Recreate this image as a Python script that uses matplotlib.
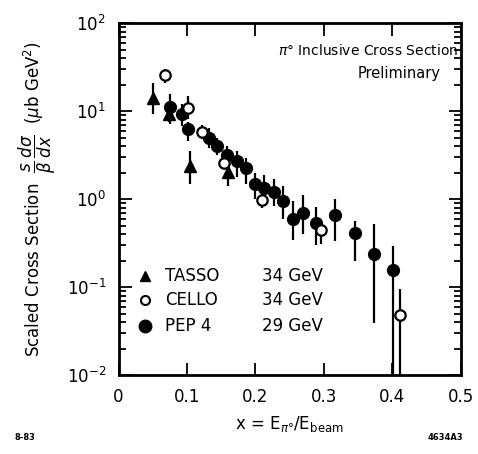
import numpy as np
import matplotlib
matplotlib.use("Agg")
import matplotlib.pyplot as plt
from matplotlib.ticker import LogLocator, NullFormatter

# PEP 4 (29 GeV) - value, lower edge, upper edge of error bar
pep_x = [0.075, 0.093, 0.101, 0.132, 0.144, 0.158, 0.173, 0.186, 0.199, 0.212,
         0.227, 0.240, 0.255, 0.269, 0.288, 0.316, 0.346, 0.373, 0.401]
pep_y = [11.1, 9.2, 6.2, 4.9, 4.0, 3.2, 2.7, 2.25, 1.48, 1.33,
         1.2, 0.95, 0.59, 0.69, 0.53, 0.66, 0.41, 0.24, 0.156]
pep_lo = [7.1, 6.8, 4.6, 3.8, 3.2, 2.2, 1.8, 1.5, 1.0, 0.92,
          0.83, 0.6, 0.34, 0.4, 0.3, 0.33, 0.2, 0.039, 0.0001]
pep_hi = [15.6, 12.0, 7.5, 6.4, 5.0, 4.0, 3.5, 2.9, 2.0, 1.9,
          1.7, 1.4, 0.95, 1.1, 0.82, 1.0, 0.56, 0.52, 0.29]

# CELLO (34 GeV)
cello_x = [0.068, 0.101, 0.122, 0.154, 0.209, 0.296, 0.411]
cello_y = [26.0, 10.8, 5.8, 2.6, 0.97, 0.44, 0.048]
cello_lo = [20.8, 8.1, 4.8, 2.2, 0.8, 0.31, 0.0001]
cello_hi = [30.0, 14.8, 7.0, 3.1, 1.15, 0.52, 0.095]

# TASSO (34 GeV)
tasso_x = [0.050, 0.074, 0.104, 0.160]
tasso_y = [14.0, 9.2, 2.4, 2.05]
tasso_lo = [9.2, 7.5, 1.48, 1.4]
tasso_hi = [20.8, 11.0, 3.5, 2.5]

experiments = ["TASSO", "CELLO", "PEP 4"]
energies = ["34 GeV", "34 GeV", "29 GeV"]
xticks = [0, 0.1, 0.2, 0.3, 0.4, 0.5]
xticklabels = ["0", "0.1", "0.2", "0.3", "0.4", "0.5"]


def yerr(y, lo, hi):
    y = np.array(y)
    return [y - np.array(lo), np.array(hi) - y]


fig = plt.figure(figsize=(4.78, 4.54), dpi=100)
ax = fig.add_axes([0.248, 0.174, 0.716, 0.775])

ax.errorbar(pep_x, pep_y, yerr=yerr(pep_y, pep_lo, pep_hi), fmt='o', color='black',
            ms=8.5, elinewidth=1.6, capsize=0, zorder=3)
ax.errorbar(cello_x, cello_y, yerr=yerr(cello_y, cello_lo, cello_hi), fmt='o', color='black',
            mfc='white', mec='black', mew=1.6, ms=7.5, elinewidth=1.6, capsize=0, zorder=4)
ax.errorbar(tasso_x, tasso_y, yerr=yerr(tasso_y, tasso_lo, tasso_hi), fmt='^', color='black',
            ms=8, elinewidth=1.6, capsize=0, zorder=3)

ax.set_yscale('log')
ax.set_xlim(0, 0.5)
ax.set_ylim(1e-2, 1e2)
ax.set_xticks(xticks, xticklabels)
ax.yaxis.set_major_locator(LogLocator(base=10, numticks=10))
ax.yaxis.set_minor_locator(LogLocator(base=10, subs=np.arange(2, 10), numticks=20))
ax.yaxis.set_minor_formatter(NullFormatter())
ax.tick_params(which='both', direction='in', top=True, right=True, width=1.3)
ax.tick_params(which='major', length=9, labelsize=12, pad=9)
ax.tick_params(which='minor', length=5)
for s in ax.spines.values():
    s.set_linewidth(2)

ax.text(0.73, 0.923, r"$\pi°$ Inclusive Cross Section", transform=ax.transAxes,
        ha='center', va='center', fontsize=10)
ax.text(0.82, 0.858, "Preliminary", transform=ax.transAxes,
        ha='center', va='center', fontsize=10.5)

# legend drawn by hand
leg_y = [0.281, 0.213, 0.139]
styles = [dict(marker='^', color='black', ms=7),
          dict(marker='o', mfc='white', mec='black', mew=1.5, ms=6.5),
          dict(marker='o', color='black', ms=9)]
for name, en, yy, st in zip(experiments, energies, leg_y, styles):
    ax.plot([0.077], [yy], transform=ax.transAxes, ls='none', **st)
    ax.text(0.136, yy, name, transform=ax.transAxes, va='center', fontsize=12)
    ax.text(0.419, yy, en, transform=ax.transAxes, va='center', fontsize=12)

ax.set_xlabel(r"x = E$_{\pi°}$/E$_{\rm beam}$", fontsize=12, labelpad=6)
ax.set_ylabel(r"Scaled Cross Section  $\dfrac{s}{\beta}\,\dfrac{d\sigma}{dx}$  ($\mu$b GeV$^2$)",
              fontsize=12, labelpad=6)

fig.text(0.03, 0.03, "8-83", fontsize=6, fontweight='bold')
fig.text(0.97, 0.03, "4634A3", fontsize=6, fontweight='bold', ha='right')

fig.savefig("out.png", dpi=100)
